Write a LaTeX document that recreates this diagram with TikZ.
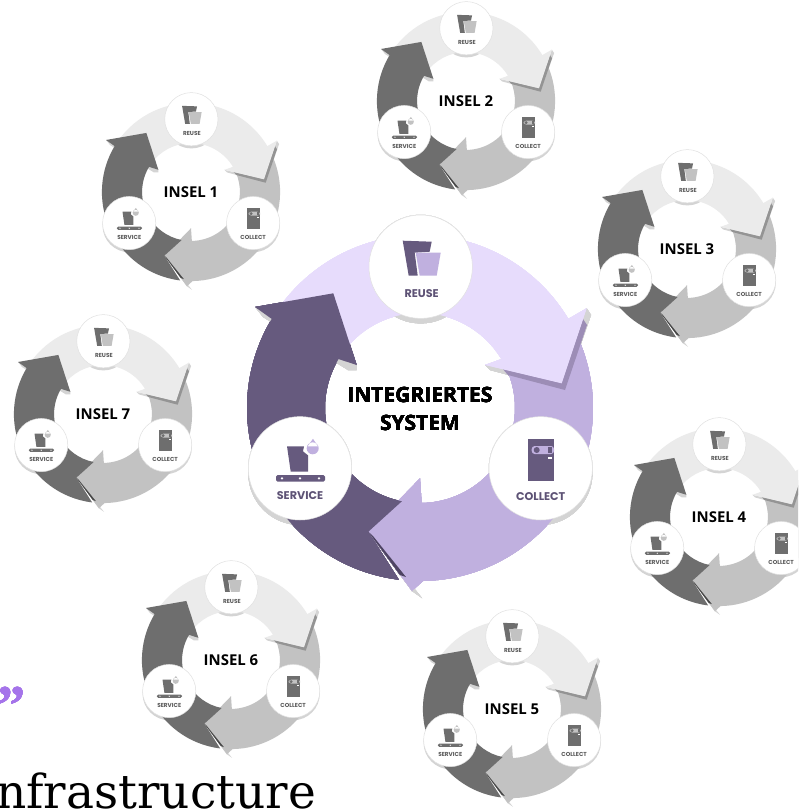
\documentclass[tikz,border=0pt]{standalone}
\usepackage{fontspec}
\setmainfont{DejaVu Serif}
\newfontfamily\quotefont{Liberation Serif}
\newfontfamily\labelfont{Open Sans}
\newfontfamily\iconfont{Poppins}
\definecolor{quotepurple}{HTML}{A574EA}
\definecolor{dropgrey}{HTML}{D4D4D4}
\tikzset{
  disc/.style={circle,draw=black!12,fill=white,line width=0.5pt,minimum size=103.4pt,inner sep=0pt,transform shape},
  iconlabel/.style={text=ringtext,font=\iconfont\bfseries\fontsize{11.2}{13}\selectfont,inner sep=0pt,transform shape},
  dropshade/.style={fill=dropgrey}
}
% one cycle: name, x, y, scale, text, font size
\newcommand{\ringcycle}[6]{
  \begin{scope}[shift={(#2,#3)},scale=#4]
    % grey drops on the white
    \fill[dropshade] (0.7,-136.3) circle[radius=51.7];
    \fill[dropshade] (120.7,65.3) circle[radius=51.7];
    \fill[dropshade] (-120,65.3) circle[radius=51.7];
    \fill[dropshade] (166.7,-99.7) -- (141.7,-24.7) -- (65,-43) -- (70,-38) -- (145,-18) -- (171,-93) -- cycle;
    \fill[dropshade] (-51.7,123.7) -- (-8,183) -- (2,190) -- (-48,129) -- cycle;
    \fill[dropshade] (-165,-101) -- (-157,-91) -- (-72,-38) -- (-63.3,-38) -- (-63.3,-43) -- cycle;
    % middle arrow
    \fill[ringmid] (-25:173) arc[start angle=-25,end angle=89,radius=173] -- (-8,183) -- (-51.7,123.7) -- (0,70.3) -- (89:95) arc[start angle=89,end angle=-25,radius=95] -- cycle;
    % light arrow
    \fill[midshade] (83,-38.7) -- (141.7,-24.7) -- (163,-89) -- (167,-83) -- (145,-18) -- (88,-33) -- cycle;
    \fill[ringlight] (-145:173) arc[start angle=-145,end angle=-31,radius=173] -- (166.7,-99.7) -- (141.7,-24.7) -- (65,-43) -- (-31:95) arc[start angle=-31,end angle=-145,radius=95] -- cycle;
    % dark arrow
    \fill[ringdark] (97:173) arc[start angle=97,end angle=211,radius=173] -- (-165,-101) -- (-86.7,-114.7) -- (-63.3,-43) -- (211:95) arc[start angle=211,end angle=101,radius=95] -- (-51.7,123.7) -- cycle;
    \fill[darkshade] (-51.7,123.7) -- (-20,167) -- (-14,169) -- (-47,128) -- cycle;
    % reuse
    \node[disc] (#1-reuse) at (0.7,-141.3) {};
    \begin{scope}[shift={(0.7,-141.3)}]
      \fill[ringdark] (-18,-26) -- (11,-25) -- (9,-15) -- (-6,-14) -- (-3,9) -- (-12,9) -- cycle;
      \fill[ringmid] (-5,-14) -- (20,-14) -- (16,9) -- (-1,9) -- cycle;
    \end{scope}
    \node[iconlabel] (#1-reuse-text) at (1.7,-114.3) {REUSE};
    % collect
    \node[disc] (#1-collect) at (120.7,60.3) {};
    \begin{scope}[shift={(120.7,60.3)}]
      \fill[ringdark] (-12.3,-29) rectangle (13.3,12.3);
      \fill[ringmid,rounded corners=3pt] (-9,-22.3) rectangle (13.3,-14.3);
      \fill[ringdark] (-4,-18.3) circle[radius=3];
      \fill[ringdark] (7,-21) rectangle (11,-15.6);
      \fill[white] (7,-11) rectangle (11,-9.6);
    \end{scope}
    \node[iconlabel] (#1-collect-text) at (120.7,88.3) {COLLECT};
    % service
    \node[disc] (#1-service) at (-120,60.3) {};
    \begin{scope}[shift={(-120,60.3)}]
      \fill[ringdark] (-13,-22) -- (4,-22) -- (3,-17) -- (8,-13) -- (8,3.3) -- (-9.3,3.3) -- cycle;
      \fill[ringmid] (12.7,-20) circle[radius=6] (13,-29.5) -- (7.5,-22) -- (18,-22) -- cycle;
      \fill[ringdark,rounded corners=1.5pt] (-24,6.7) rectangle (25,13.3);
      \fill[white] (-18,10) circle[radius=1.3] (0,10) circle[radius=1.3] (19,10) circle[radius=1.3];
    \end{scope}
    \node[iconlabel] (#1-service-text) at (-120,88) {SERVICE};
    % centre text
    \node[align=center,inner sep=0pt,transform shape,font=\labelfont\bfseries\fontsize{#6}{28}\selectfont] (#1-text) at (0,1) {#5};
  \end{scope}
}
\begin{document}
\begin{tikzpicture}[x=1pt,y=-1pt]
  \path[use as bounding box,clip] (0,0) rectangle (798,811);
  \fill[white] (0,0) rectangle (798,811);
  % islands
  \colorlet{ringlight}{black!8}
  \colorlet{ringmid}{black!24}
  \colorlet{ringdark}{black!57}
  \colorlet{ringtext}{black!65}
  \colorlet{midshade}{black!42}
  \colorlet{darkshade}{black!72}
  \foreach \num/\px/\py in {1/191/192,2/466/101,3/687/249,4/719/517,5/512/709,6/231/660,7/103/414}
    \ringcycle{insel\num}{\px}{\py}{0.515}{INSEL \num}{29}
  % main system
  \definecolor{ringlight}{HTML}{E7DCFC}
  \definecolor{ringmid}{HTML}{C0B0DF}
  \definecolor{ringdark}{HTML}{665A7E}
  \definecolor{ringtext}{HTML}{5D5275}
  \definecolor{midshade}{HTML}{9C8DB6}
  \definecolor{darkshade}{HTML}{4E4463}
  \ringcycle{main}{420}{408}{1}{INTEGRIERTES\\SYSTEM}{21}
  % cut off text
  \node[text=quotepurple,font=\quotefont\bfseries\fontsize{56}{56}\selectfont,anchor=base west,inner sep=0pt] (quote) at (-3,724) {”};
  \node[font=\fontsize{47}{47}\selectfont,anchor=base west,inner sep=0pt] (word) at (-4,808) {nfrastructure};
\end{tikzpicture}
\end{document}
